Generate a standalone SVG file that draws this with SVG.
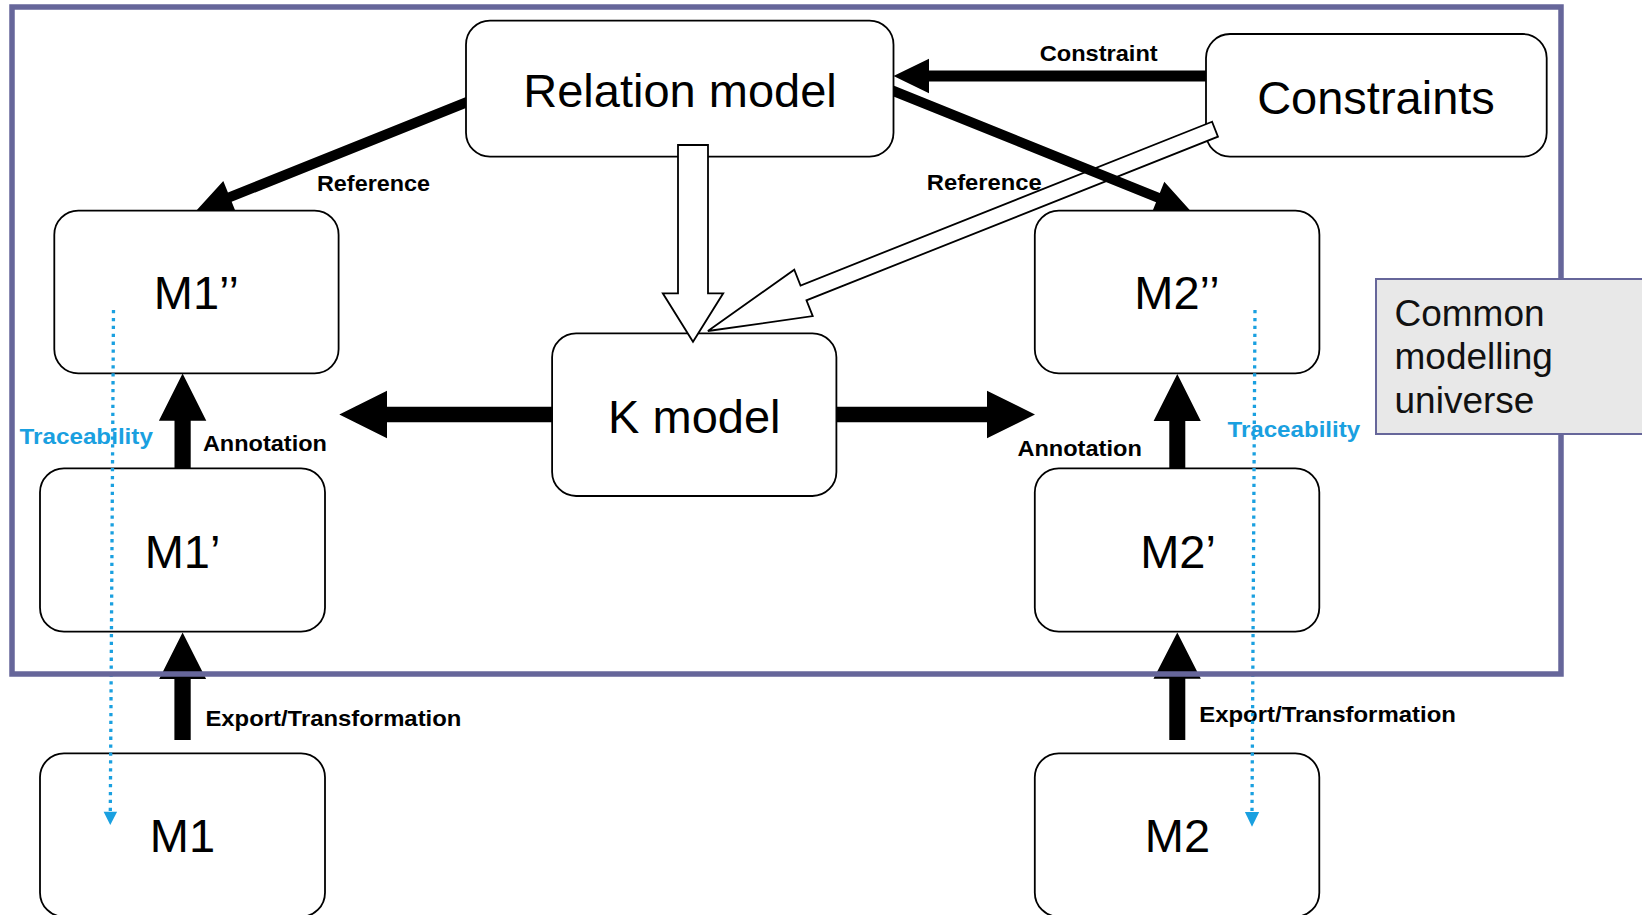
<svg xmlns="http://www.w3.org/2000/svg" width="1642" height="915" viewBox="0 0 1642 915">
  <style>
    .box { fill: #ffffff; stroke: #000000; stroke-width: 1.8; }
    .name { font-family: "Liberation Sans", Arial, sans-serif; font-size: 47px; fill: #000000; text-anchor: middle; }
    .solid { fill: #000000; stroke: none; }
    .hollow { fill: #ffffff; stroke: #000000; stroke-width: 1.8; stroke-linejoin: miter; }
    .lbl { font-family: "Liberation Sans", Arial, sans-serif; font-size: 21.5px; font-weight: bold; fill: #000000; }
    .trace-lbl { fill: #1aa0e0; }
    .trace { fill: none; stroke: #1aa0e0; stroke-width: 3.3; stroke-dasharray: 3.3 4.6; }
    .trace-head { fill: #1aa0e0; stroke: none; }
    .frame { fill: none; stroke: #66669a; stroke-width: 5.5; }
    .legend { fill: #e8e8e8; stroke: #66669a; stroke-width: 2; }
    .legend-text { font-family: "Liberation Sans", Arial, sans-serif; font-size: 37px; fill: #111111; }
  </style>

  <rect width="1642" height="915" fill="#ffffff"/>

  <!-- models -->
  <g id="relation-model">
    <rect class="box" x="466" y="20.7" width="427.5" height="136" rx="24"/>
    <text class="name" x="680" y="107.3">Relation model</text>
  </g>
  <g id="constraints">
    <rect class="box" x="1206" y="34" width="340.7" height="122.7" rx="24"/>
    <text class="name" x="1376" y="114">Constraints</text>
  </g>
  <g id="m1-double-prime">
    <rect class="box" x="54.3" y="210.7" width="284.3" height="162.6" rx="24"/>
    <text class="name" x="196.4" y="309.3">M1’’</text>
  </g>
  <g id="m1-prime">
    <rect class="box" x="40" y="468.3" width="285" height="163.4" rx="24"/>
    <text class="name" x="182.5" y="567.7">M1’</text>
  </g>
  <g id="m1">
    <rect class="box" x="40" y="753.3" width="285" height="163.4" rx="24"/>
    <text class="name" x="182.5" y="851.7">M1</text>
  </g>
  <g id="k-model">
    <rect class="box" x="552.1" y="333.3" width="284.3" height="162.7" rx="24"/>
    <text class="name" x="694.3" y="433.3">K model</text>
  </g>
  <g id="m2-double-prime">
    <rect class="box" x="1034.8" y="210.7" width="284.6" height="162.6" rx="24"/>
    <text class="name" x="1177" y="309.3">M2’’</text>
  </g>
  <g id="m2-prime">
    <rect class="box" x="1034.8" y="468.3" width="284.5" height="163.4" rx="24"/>
    <text class="name" x="1178" y="567.7">M2’</text>
  </g>
  <g id="m2">
    <rect class="box" x="1034.8" y="753.3" width="284.5" height="163.4" rx="24"/>
    <text class="name" x="1177.5" y="851.7">M2</text>
  </g>

  <!-- links between models -->
  <g id="connectors">
    <!-- hollow derivation arrows into the K model -->
    <polygon class="hollow" points="678,145 708,145 708,293.3 723.2,293.3 693,341.7 662.8,293.3 678,293.3"/>
    <polygon class="hollow" points="1212.04,121.77 800.54,285.47 794.26,269.67 707.9,331 812.74,316.13 806.46,300.33 1217.96,136.63"/>

    <!-- Reference: relation model to M1'' and M2'' -->
    <polygon class="solid" points="196.4,210.6 235.18,210.6 231.67,201.84 466,107.88 466,97.11 227.95,192.56 223.3,180.96"/>
    <polygon class="solid" points="1190.4,210.7 1152.66,210.7 1156.07,202.25 893.5,96.39 893.5,85.6 1159.81,192.97 1164.3,181.84"/>

    <!-- Constraint: constraints to relation model -->
    <polygon class="solid" points="893.5,76 929,58.8 929,70.6 1206,70.6 1206,81.4 929,81.4 929,93.2"/>

    <!-- K model to both sides -->
    <polygon class="solid" points="339.3,414.5 387,390.8 387,406.7 552.1,406.7 552.1,422.3 387,422.3 387,438.2"/>
    <polygon class="solid" points="1035,414.5 987,390.8 987,406.7 836.4,406.7 836.4,422.3 987,422.3 987,438.2"/>

    <!-- Annotation: M1' to M1'', M2' to M2'' -->
    <polygon class="solid" points="182.6,373.5 206.3,420.8 190.7,420.8 190.7,468.3 174.5,468.3 174.5,420.8 158.9,420.8"/>
    <polygon class="solid" points="1177.3,374 1200.8,421 1185.3,421 1185.3,468.3 1169.3,468.3 1169.3,421 1153.6,421"/>

    <!-- Export/Transformation: M1 to M1', M2 to M2' -->
    <polygon class="solid" points="182.6,632.5 206.1,679 190.7,679 190.7,740 174.4,740 174.4,679 159.2,679"/>
    <polygon class="solid" points="1177.3,632.5 1200.8,678.8 1185.3,678.8 1185.3,740 1169.3,740 1169.3,678.8 1153.5,678.8"/>

    <!-- link labels -->
    <text class="lbl" x="317" y="190.7" textLength="113" lengthAdjust="spacingAndGlyphs">Reference</text>
    <text class="lbl" x="926.8" y="190" textLength="115" lengthAdjust="spacingAndGlyphs">Reference</text>
    <text class="lbl" x="1039.7" y="60.7" textLength="118" lengthAdjust="spacingAndGlyphs">Constraint</text>
    <text class="lbl" x="202.9" y="450.7" textLength="124" lengthAdjust="spacingAndGlyphs">Annotation</text>
    <text class="lbl" x="1017.4" y="455.5" textLength="124.4" lengthAdjust="spacingAndGlyphs">Annotation</text>
    <text class="lbl" x="205.4" y="725.7" textLength="256" lengthAdjust="spacingAndGlyphs">Export/Transformation</text>
    <text class="lbl" x="1199.2" y="721.7" textLength="256.7" lengthAdjust="spacingAndGlyphs">Export/Transformation</text>
    <text class="lbl trace-lbl" x="19.6" y="444" textLength="133.3" lengthAdjust="spacingAndGlyphs">Traceability</text>
    <text class="lbl trace-lbl" x="1227.5" y="437.3" textLength="132.7" lengthAdjust="spacingAndGlyphs">Traceability</text>

    <!-- Traceability: dotted links back to the source models -->
    <line class="trace" x1="113.5" y1="310" x2="110.3" y2="812"/>
    <polygon class="trace-head" points="103.6,811.7 117.1,811.7 110.3,825"/>
    <line class="trace" x1="1255" y1="310" x2="1252" y2="812"/>
    <polygon class="trace-head" points="1244.9,812 1259.2,812 1252,826.7"/>
  </g>

  <!-- common modelling universe boundary -->
  <rect class="frame" x="12" y="7" width="1549" height="667"/>

  <g id="universe-legend">
    <rect class="legend" x="1376" y="279" width="280" height="155"/>
    <text class="legend-text" x="1394.5" y="326">Common</text>
    <text class="legend-text" x="1394.5" y="369.3">modelling</text>
    <text class="legend-text" x="1394.5" y="413.3">universe</text>
  </g>
</svg>
